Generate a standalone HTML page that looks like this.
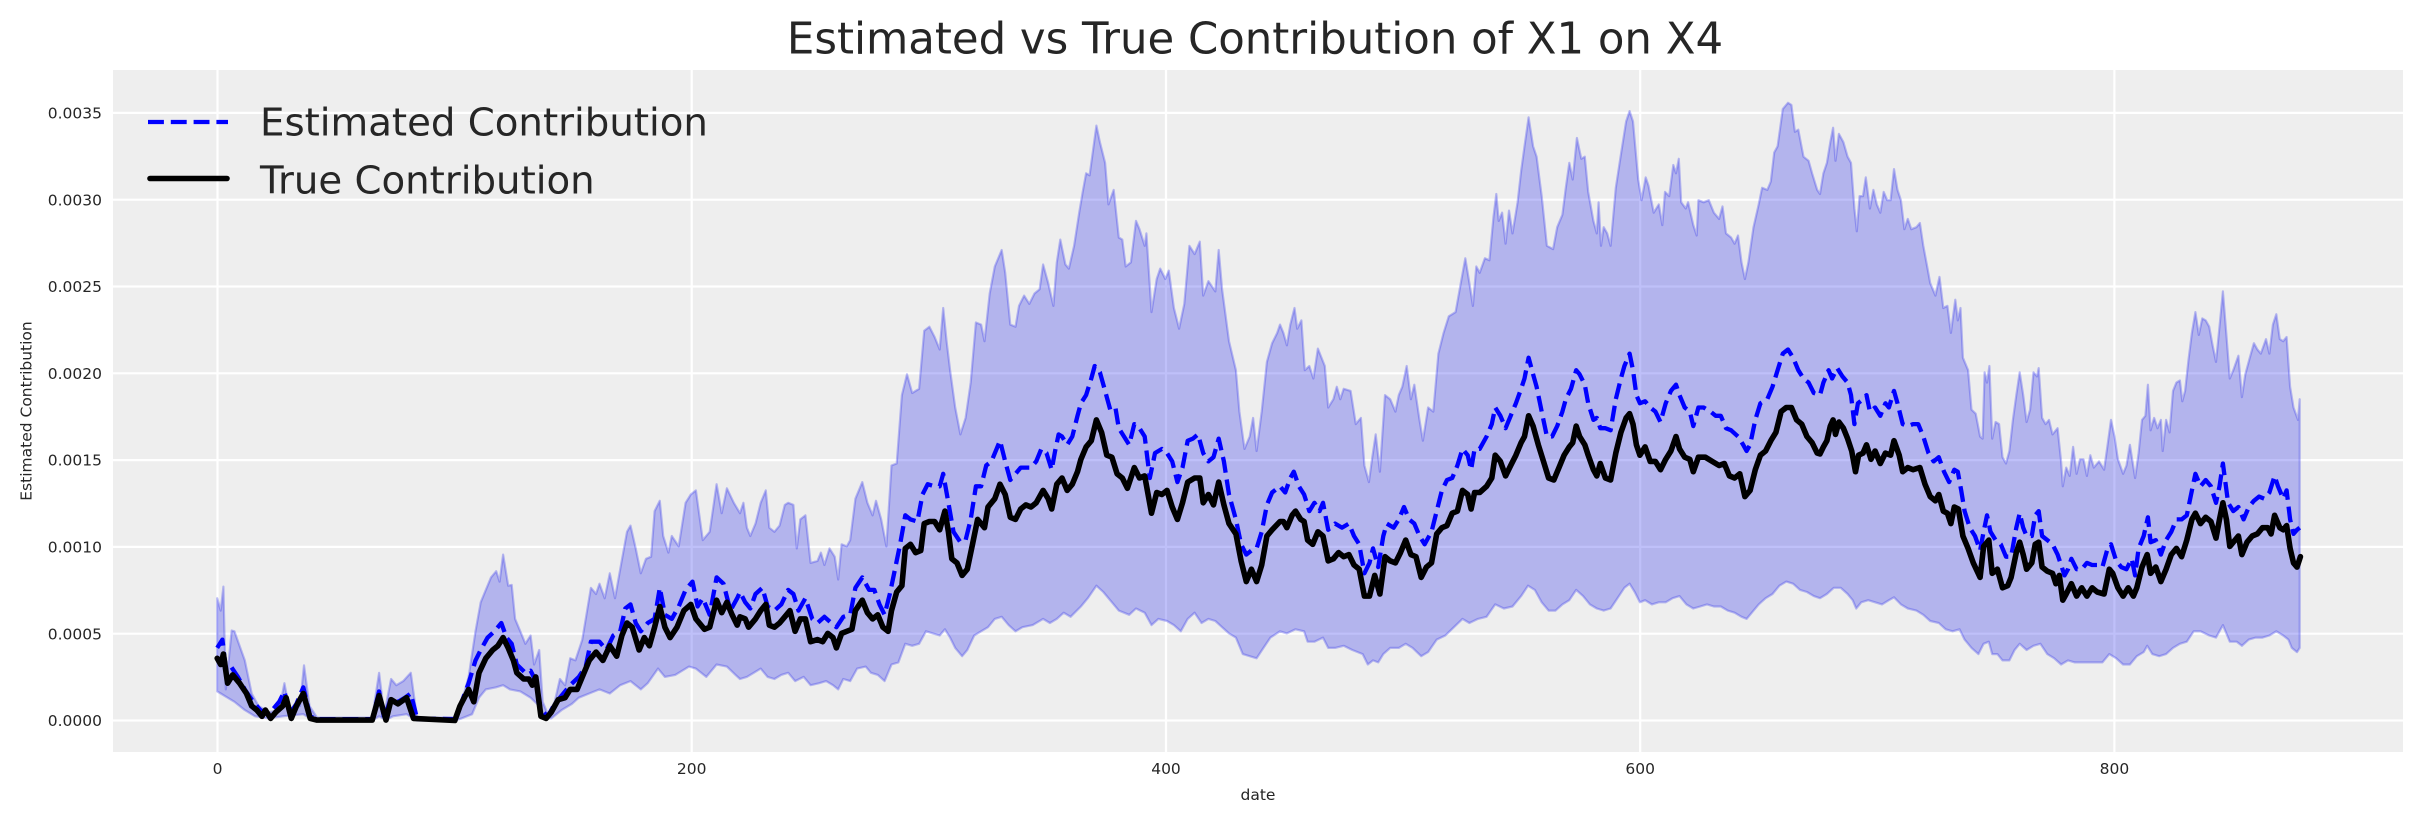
<!DOCTYPE html>
<html>
<head>
<meta charset="utf-8">
<style>
  html,body{margin:0;padding:0;background:#ffffff;}
  svg{display:block;}
  text{font-family:"DejaVu Sans","Liberation Sans",sans-serif;fill:#262626;}
</style>
</head>
<body>
<svg id="chart" width="2423" height="823" viewBox="0 0 2423 823" xmlns="http://www.w3.org/2000/svg">
  <defs>
    <clipPath id="axclip"><rect x="113" y="70" width="2290" height="682"/></clipPath>
  </defs>
  <rect x="0" y="0" width="2423" height="823" fill="#ffffff"/>
  <rect x="113" y="70" width="2290" height="682" fill="#eeeeee"/>
  <g stroke="#ffffff" stroke-width="2.2">
    <line x1="217.5" y1="70" x2="217.5" y2="752"/>
    <line x1="691.7" y1="70" x2="691.7" y2="752"/>
    <line x1="1166" y1="70" x2="1166" y2="752"/>
    <line x1="1640.2" y1="70" x2="1640.2" y2="752"/>
    <line x1="2114.4" y1="70" x2="2114.4" y2="752"/>
    <line x1="113" y1="720.5" x2="2403" y2="720.5"/>
    <line x1="113" y1="633.7" x2="2403" y2="633.7"/>
    <line x1="113" y1="546.9" x2="2403" y2="546.9"/>
    <line x1="113" y1="460.1" x2="2403" y2="460.1"/>
    <line x1="113" y1="373.3" x2="2403" y2="373.3"/>
    <line x1="113" y1="286.5" x2="2403" y2="286.5"/>
    <line x1="113" y1="199.7" x2="2403" y2="199.7"/>
    <line x1="113" y1="112.9" x2="2403" y2="112.9"/>
  </g>
  <g clip-path="url(#axclip)">
    <path id="band" d="" fill="#2a2eec" fill-opacity="0.3" stroke="#2a2eec" stroke-opacity="0.3" stroke-width="2.2" stroke-linejoin="round"/>
    <path id="est" d="" fill="none" stroke="#0000ff" stroke-width="4.3" stroke-dasharray="15.9 6.9" stroke-linejoin="round" stroke-linecap="butt"/>
    <path id="tru" d="" fill="none" stroke="#000000" stroke-width="5.6" stroke-linejoin="round" stroke-linecap="round"/>
  </g>

  <!-- y tick labels -->
  <g font-size="15.5" text-anchor="end">
    <text x="102" y="726.1">0.0000</text>
    <text x="102" y="639.3">0.0005</text>
    <text x="102" y="552.5">0.0010</text>
    <text x="102" y="465.7">0.0015</text>
    <text x="102" y="378.9">0.0020</text>
    <text x="102" y="292.1">0.0025</text>
    <text x="102" y="205.3">0.0030</text>
    <text x="102" y="118.5">0.0035</text>
  </g>
  <!-- x tick labels -->
  <g font-size="15.5" text-anchor="middle">
    <text x="217.5" y="774">0</text>
    <text x="691.7" y="774">200</text>
    <text x="1166" y="774">400</text>
    <text x="1640.2" y="774">600</text>
    <text x="2114.4" y="774">800</text>
  </g>
  <text x="1258" y="800" font-size="15.5" text-anchor="middle">date</text>
  <text transform="translate(31.5,411) rotate(-90)" font-size="15.5" text-anchor="middle">Estimated Contribution</text>
  <text x="1255" y="53.3" font-size="43.4" text-anchor="middle">Estimated vs True Contribution of X1 on X4</text>

  <!-- legend -->
  <line x1="148" y1="122" x2="228" y2="122" stroke="#0000ff" stroke-width="4.3" stroke-dasharray="15.9 6.9"/>
  <line x1="150" y1="178.5" x2="227" y2="178.5" stroke="#000000" stroke-width="5.6" stroke-linecap="round"/>
  <text x="260" y="135.7" font-size="38.7">Estimated Contribution</text>
  <text x="260" y="193.3" font-size="38.7">True Contribution</text>
</svg>
<script>
(function(){
var FX=1568/540, FY=1568/650;
var SEG=[200,740,1280,1820];
var U=[
[50,1250,60,1280,68,1222,75,1470,92,1328,100,1330,130,1400,150,1480,170,1510,200,1525,230,1520,245,1455,260,1520,290,1510,302,1412,318,1510,340,1538,500,1538,520,1430,535,1530,555,1445,570,1460,590,1450,612,1430,630,1538,740,1538,760,1500,780,1440,800,1330,815,1260,830,1230,845,1200,860,1185,870,1210,880,1145,895,1220,905,1218,915,1300,930,1330,945,1360,960,1340,970,1410,985,1375,995,1500,1010,1530,1030,1500,1045,1445,1060,1460,1075,1395,1090,1400,1110,1350,1135,1225,1150,1240,1160,1215,1175,1250,1190,1190,1205,1250,1220,1180,1240,1090,1250,1075,1265,1130,1280,1190,1295,1155,1310,1150,1320,1040,1335,1015,1345,1100,1360,1140,1370,1100,1390,1125,1410,1020,1425,1000,1440,990,1460,1110,1480,1090,1500,975,1515,1045,1530,985,1550,1020,1568,1045],
[10,1020,20,1080,30,1100,45,1070,60,1020,75,990,85,1080,100,1090,115,1075,130,1025,140,1020,155,1025,165,1130,175,1060,190,1050,205,1165,225,1160,235,1140,245,1170,260,1130,275,1150,285,1205,295,1120,310,1125,320,1110,335,1010,355,970,370,1020,385,1050,395,1015,410,1060,425,1125,440,930,455,925,470,760,485,710,500,755,520,745,535,605,550,595,565,620,580,650,590,550,600,630,610,700,625,790,640,855,655,815,670,730,685,585,700,590,710,630,725,515,740,450,760,410,770,465,785,590,800,595,810,545,825,520,840,540,855,515,870,505,880,445,895,490,910,545,920,440,930,385,945,445,955,455,970,400,985,320,995,270,1005,225,1015,230,1025,170,1035,110,1045,150,1060,200,1070,300,1085,265,1100,380,1110,385,1120,450,1135,440,1150,340,1160,360,1175,400,1180,370,1195,560,1210,480,1220,455,1235,480,1245,460,1260,550,1275,600,1290,540,1305,400,1320,420,1335,390,1345,520,1360,485,1380,510,1390,410,1400,505,1420,630,1440,700,1450,800,1465,890,1480,860,1490,815,1500,895,1515,800,1530,680,1545,635,1560,610,1568,590],
[10,610,20,640,30,590,42,550,50,600,62,580,72,700,85,690,97,720,110,648,130,690,140,790,155,770,165,740,175,770,185,745,205,750,220,830,235,815,245,930,258,970,268,910,278,855,290,945,305,760,320,770,335,800,345,760,355,740,368,690,380,770,390,735,405,820,415,870,430,790,445,800,460,660,475,610,490,570,510,560,525,490,538,430,550,490,560,545,570,450,580,465,595,430,608,435,620,330,628,275,635,340,645,320,655,395,665,315,675,370,690,295,700,220,710,160,722,90,735,160,745,185,760,280,775,400,793,408,805,355,820,325,830,260,840,200,850,240,862,140,875,190,885,185,895,270,910,340,920,370,925,295,932,400,940,355,950,370,960,400,975,260,990,180,1005,100,1015,75,1025,100,1040,240,1050,290,1062,235,1070,255,1085,320,1100,300,1110,350,1118,270,1130,280,1142,205,1150,225,1158,190,1165,295,1178,310,1185,295,1200,350,1210,375,1215,290,1230,295,1245,290,1260,320,1275,335,1285,305,1295,370,1310,380,1320,395,1330,375,1340,440,1350,480,1360,440,1375,355,1390,300,1400,260,1415,265,1425,245,1435,175,1445,160,1460,70,1475,55,1485,60,1495,125,1505,120,1520,185,1535,195,1545,225,1560,265,1568,275],
[10,225,20,200,30,150,38,115,45,195,55,130,68,150,80,185,90,200,100,310,107,365,115,280,125,280,133,235,145,310,155,265,165,300,175,320,185,270,195,290,205,290,215,215,225,265,235,290,245,360,255,335,265,360,280,355,290,345,300,400,310,445,320,490,335,520,347,475,358,550,370,545,380,610,393,530,400,580,408,550,415,670,430,700,440,795,452,805,465,860,472,865,478,705,485,730,492,690,500,865,510,825,520,830,530,910,540,925,550,895,560,820,570,760,580,705,590,760,600,825,610,795,620,705,630,715,635,695,645,815,655,830,665,820,675,855,690,840,700,920,705,980,715,935,725,955,735,885,745,950,755,915,765,915,775,955,785,905,795,935,810,920,825,940,835,880,845,820,855,860,865,915,880,950,890,930,900,880,915,960,925,900,935,820,945,810,952,735,960,845,970,815,980,840,990,820,995,895,1005,820,1015,850,1025,750,1035,730,1045,725,1052,775,1060,750,1070,675,1080,610,1090,560,1100,615,1110,575,1120,580,1130,595,1140,640,1150,680,1160,595,1170,510,1180,615,1190,720,1200,700,1215,665,1225,765,1235,710,1248,670,1260,635,1270,650,1280,660,1295,625,1305,660,1315,590,1325,565,1335,625,1345,630,1355,620,1365,740,1375,790,1388,820,1393,770]
];
var L=[
[50,1475,60,1480,80,1490,100,1500,130,1520,160,1535,200,1540,240,1535,300,1530,330,1545,500,1545,520,1535,540,1544,560,1535,600,1530,630,1545,740,1545,760,1540,790,1530,810,1490,830,1470,860,1465,880,1460,900,1470,930,1475,960,1490,985,1510,1000,1540,1020,1540,1050,1520,1080,1505,1100,1490,1130,1480,1160,1470,1190,1480,1220,1460,1250,1450,1280,1470,1300,1455,1330,1420,1350,1440,1380,1435,1420,1415,1440,1420,1470,1440,1500,1410,1530,1415,1555,1435,1568,1445],
[20,1440,40,1430,60,1420,80,1440,100,1445,120,1435,140,1430,160,1450,185,1440,205,1460,230,1455,250,1450,270,1460,285,1470,300,1445,320,1450,340,1420,365,1415,380,1430,400,1435,420,1450,440,1410,460,1405,480,1360,500,1365,520,1360,540,1330,560,1335,580,1340,595,1325,610,1345,625,1370,645,1390,660,1375,680,1340,700,1330,720,1320,740,1300,760,1295,780,1315,800,1330,820,1320,850,1315,880,1300,900,1310,920,1300,940,1285,960,1295,990,1270,1010,1250,1035,1220,1055,1235,1080,1260,1100,1280,1130,1290,1150,1275,1175,1285,1195,1315,1215,1300,1240,1305,1260,1315,1280,1330,1300,1300,1320,1285,1340,1310,1360,1300,1380,1305,1400,1320,1420,1335,1440,1345,1460,1385,1480,1390,1500,1395,1520,1370,1540,1345,1568,1330],
[20,1335,45,1325,70,1330,80,1355,100,1355,125,1345,140,1370,160,1370,185,1365,210,1375,240,1385,255,1410,270,1400,285,1405,300,1385,320,1370,345,1370,365,1360,385,1370,410,1390,430,1380,455,1350,480,1340,505,1320,530,1300,550,1310,575,1300,600,1295,625,1265,650,1275,675,1270,700,1245,720,1220,740,1230,760,1260,780,1280,800,1280,820,1265,840,1255,860,1230,880,1245,900,1265,920,1275,940,1280,960,1275,980,1250,1000,1225,1015,1215,1030,1235,1045,1260,1060,1255,1080,1265,1100,1260,1120,1260,1140,1250,1160,1245,1180,1265,1200,1275,1220,1270,1240,1265,1260,1270,1280,1270,1300,1280,1320,1285,1340,1295,1355,1300,1370,1285,1390,1265,1410,1250,1430,1240,1450,1220,1470,1210,1490,1215,1510,1230,1530,1235,1550,1245,1568,1250],
[20,1240,40,1225,60,1225,80,1240,95,1255,105,1275,120,1260,140,1255,160,1260,180,1265,200,1255,215,1248,235,1265,255,1275,280,1280,300,1290,320,1305,345,1310,365,1325,385,1330,405,1325,420,1350,440,1370,460,1385,475,1360,490,1355,500,1385,515,1385,530,1400,550,1400,565,1375,580,1360,600,1375,620,1365,640,1360,660,1385,680,1395,700,1410,720,1400,740,1405,760,1405,780,1405,800,1405,820,1405,840,1385,860,1395,880,1410,900,1410,920,1390,940,1380,950,1365,965,1385,985,1390,1005,1385,1025,1370,1045,1360,1065,1355,1085,1330,1105,1330,1130,1340,1150,1345,1170,1315,1190,1355,1210,1355,1225,1365,1245,1350,1265,1345,1285,1345,1305,1340,1325,1330,1345,1340,1360,1350,1370,1370,1385,1380,1393,1370]
];
var B=[
[50,1370,65,1350,75,1420,90,1415,110,1440,130,1470,150,1495,175,1520,200,1530,230,1500,245,1475,260,1530,280,1505,300,1465,320,1535,340,1542,500,1542,520,1475,535,1540,555,1490,575,1500,595,1490,612,1480,630,1540,740,1542,760,1500,780,1455,800,1400,815,1375,835,1345,855,1330,875,1310,890,1345,905,1360,920,1410,945,1430,960,1425,975,1450,990,1520,1010,1535,1030,1505,1050,1485,1075,1460,1100,1440,1120,1415,1135,1355,1160,1355,1180,1375,1200,1340,1220,1330,1235,1275,1250,1265,1265,1310,1280,1330,1300,1310,1320,1300,1335,1225,1350,1290,1370,1300,1390,1270,1410,1230,1430,1210,1445,1270,1460,1250,1480,1290,1500,1200,1520,1215,1540,1280,1560,1250],
[0,1235,15,1260,30,1275,45,1240,65,1225,80,1270,100,1280,120,1265,140,1230,155,1240,170,1280,190,1250,210,1300,225,1310,245,1295,265,1310,280,1320,300,1295,320,1290,335,1225,355,1200,375,1230,390,1230,405,1265,420,1290,435,1240,450,1180,465,1120,480,1050,495,1060,515,1065,530,1000,545,975,565,980,580,980,590,950,605,1020,620,1090,640,1115,655,1110,670,1060,685,980,700,980,715,930,730,920,745,890,755,870,770,920,785,965,800,950,815,935,830,935,845,935,860,920,875,890,890,900,905,940,915,895,925,855,935,860,950,880,965,860,980,810,990,780,1005,760,1020,720,1030,690,1045,705,1060,750,1075,795,1090,790,1100,840,1115,860,1130,880,1145,830,1160,840,1175,860,1190,960,1205,900,1225,890,1240,900,1255,920,1270,970,1285,935,1300,870,1315,865,1330,855,1345,900,1360,920,1375,910,1390,865,1405,920,1420,1000,1440,1060,1455,1120,1470,1145,1485,1135,1500,1130,1515,1090,1530,1025,1545,995,1568,980],
[15,995,30,960,40,945,55,980,70,1000,85,1040,100,1020,115,1040,125,1020,140,1085,160,1070,180,1080,200,1070,215,1100,230,1120,245,1190,260,1165,270,1130,285,1175,300,1100,310,1070,330,1080,345,1060,360,1030,375,1060,390,1070,405,1100,420,1120,440,1090,455,1040,470,990,485,965,500,960,515,930,530,890,545,905,555,940,565,890,580,890,600,860,615,830,625,790,640,810,655,840,670,810,685,780,700,745,710,720,722,670,735,710,745,740,760,800,775,860,790,860,805,835,820,800,830,770,845,745,860,700,870,710,885,735,895,780,910,820,920,815,930,840,945,840,960,845,975,770,990,720,1000,690,1015,660,1025,700,1035,760,1045,780,1060,775,1075,790,1090,800,1105,825,1120,780,1135,750,1150,735,1160,760,1175,790,1190,800,1200,835,1215,790,1230,790,1250,800,1265,810,1280,810,1295,840,1310,845,1330,860,1345,880,1355,895,1365,880,1380,820,1395,780,1415,770,1430,740,1445,700,1460,660,1475,650,1490,670,1505,700,1520,720,1535,730,1550,755,1568,760],
[10,730,25,700,35,720,50,695,65,715,80,730,90,760,100,830,110,780,125,770,135,760,145,800,160,790,175,810,190,780,200,790,215,750,225,780,240,830,255,835,270,830,285,830,300,860,315,900,330,920,345,910,360,945,375,970,390,940,400,945,410,990,420,1040,435,1080,450,1100,465,1135,475,1090,485,1050,495,1090,510,1110,525,1120,540,1150,555,1150,570,1080,580,1045,590,1080,600,1100,615,1100,625,1050,635,1040,645,1100,660,1110,675,1120,690,1145,700,1170,710,1195,720,1180,730,1155,745,1180,760,1180,775,1165,790,1170,805,1170,820,1175,835,1130,845,1120,860,1160,875,1175,890,1180,905,1155,915,1195,925,1130,940,1100,952,1055,960,1115,975,1110,990,1145,1005,1110,1020,1090,1035,1060,1050,1060,1065,1050,1080,990,1090,950,1105,980,1120,965,1135,980,1150,1020,1160,980,1170,925,1185,1020,1200,1040,1215,1030,1230,1060,1245,1030,1260,1015,1275,1005,1290,1010,1305,995,1320,955,1330,980,1345,1010,1355,990,1365,1060,1375,1095,1385,1085,1393,1080]
];
var K=[
[50,1395,60,1410,68,1385,80,1455,95,1435,115,1455,135,1480,150,1510,165,1520,180,1535,190,1520,205,1540,220,1525,240,1510,250,1490,265,1540,280,1510,300,1480,320,1540,340,1544,500,1544,520,1485,540,1544,555,1495,575,1505,600,1490,620,1540,740,1545,755,1510,780,1470,795,1500,810,1430,830,1395,850,1375,865,1365,880,1345,895,1370,910,1400,920,1430,940,1445,955,1445,965,1460,975,1440,990,1535,1005,1540,1020,1525,1040,1495,1060,1490,1075,1470,1095,1470,1110,1440,1130,1400,1150,1380,1170,1400,1190,1365,1210,1390,1225,1340,1240,1310,1255,1320,1275,1375,1290,1345,1305,1365,1320,1320,1335,1270,1350,1320,1365,1345,1385,1320,1405,1280,1425,1265,1440,1300,1465,1325,1480,1320,1500,1255,1515,1285,1530,1260,1545,1290,1560,1315],
[0,1295,15,1300,25,1320,45,1300,60,1280,75,1265,85,1315,100,1320,115,1310,130,1295,145,1280,160,1330,175,1300,190,1300,205,1355,225,1350,240,1355,255,1335,270,1345,280,1370,295,1335,310,1330,325,1325,335,1280,355,1255,370,1285,385,1300,400,1290,415,1320,430,1330,440,1280,455,1235,470,1220,480,1130,495,1120,510,1140,525,1135,535,1070,550,1065,565,1065,580,1085,595,1040,605,1090,615,1155,630,1165,645,1195,660,1180,675,1120,690,1060,710,1080,720,1030,740,1010,755,975,770,1000,785,1055,800,1060,815,1035,830,1025,845,1030,860,1020,880,990,895,1010,905,1035,920,975,935,960,950,990,965,975,980,945,990,915,1005,885,1020,870,1035,820,1050,850,1065,905,1080,910,1095,950,1110,960,1125,985,1145,935,1160,960,1175,955,1195,1045,1210,995,1225,1000,1240,990,1255,1030,1270,1060,1285,1020,1300,970,1320,960,1335,960,1345,1020,1360,1000,1375,1025,1390,970,1405,1025,1420,1070,1440,1095,1455,1160,1470,1210,1485,1180,1500,1210,1515,1170,1530,1100,1545,1085,1568,1065],
[10,1065,20,1080,35,1050,45,1040,60,1060,70,1065,80,1110,95,1120,110,1090,125,1100,140,1160,155,1155,170,1140,185,1150,200,1145,215,1170,230,1180,245,1245,260,1245,275,1195,290,1240,305,1150,320,1160,335,1165,350,1140,365,1110,380,1145,395,1150,410,1200,425,1175,440,1165,455,1095,470,1080,485,1075,500,1045,515,1040,530,990,545,1000,555,1035,565,995,580,995,600,980,615,960,625,905,640,920,655,955,670,930,685,905,700,875,710,860,722,810,735,835,750,880,765,920,780,960,795,965,810,935,825,905,840,885,850,875,860,835,870,860,885,880,895,905,910,940,920,955,930,925,945,960,960,965,975,900,990,850,1005,815,1015,805,1025,830,1035,880,1045,905,1060,885,1075,920,1090,920,1105,940,1120,915,1135,895,1150,860,1160,890,1175,910,1190,915,1200,945,1215,910,1235,910,1255,920,1275,930,1290,925,1305,955,1320,960,1335,950,1350,1005,1365,990,1380,940,1395,905,1410,895,1425,870,1440,850,1455,800,1470,790,1485,790,1500,820,1515,830,1530,860,1545,875,1560,900,1568,902],
[10,885,20,870,30,835,38,820,45,855,55,825,68,840,80,865,92,895,103,945,112,905,125,900,135,880,148,915,160,895,175,925,190,900,205,905,215,870,230,905,240,945,255,935,270,940,290,935,305,975,320,1005,335,1015,345,1000,358,1040,370,1045,380,1070,390,1030,402,1035,415,1100,430,1130,445,1165,465,1200,475,1125,490,1110,500,1190,515,1180,530,1225,545,1220,555,1200,570,1140,580,1115,590,1145,600,1180,615,1165,625,1120,635,1115,645,1175,660,1185,675,1190,685,1215,695,1195,705,1255,715,1240,730,1215,745,1245,760,1225,775,1245,790,1225,805,1235,825,1240,840,1180,850,1190,865,1225,880,1245,895,1225,910,1245,920,1225,935,1175,950,1145,960,1190,975,1175,990,1210,1005,1180,1020,1145,1035,1130,1050,1150,1065,1110,1080,1060,1090,1045,1105,1070,1120,1055,1135,1065,1150,1105,1160,1060,1170,1020,1180,1060,1190,1125,1200,1115,1215,1100,1225,1145,1240,1115,1255,1100,1270,1095,1285,1080,1300,1080,1310,1095,1320,1050,1335,1080,1345,1085,1355,1075,1365,1130,1375,1165,1385,1175,1395,1150]
];
function pts(S){
  var out=[];
  for(var s=0;s<S.length;s++){
    var a=S[s],x0=SEG[s];
    for(var i=0;i<a.length;i+=2){
      out.push([(x0+a[i]/FX).toFixed(1),(80+a[i+1]/FY).toFixed(1)]);
    }
  }
  return out;
}
function path(p){
  var d="M"+p[0][0]+","+p[0][1];
  for(var i=1;i<p.length;i++)d+="L"+p[i][0]+","+p[i][1];
  return d;
}
var up=pts(U),lo=pts(L).reverse();
document.getElementById("band").setAttribute("d",path(up.concat(lo))+"Z");
document.getElementById("est").setAttribute("d",path(pts(B)));
document.getElementById("tru").setAttribute("d",path(pts(K)));
})();
</script>
</body>
</html>
